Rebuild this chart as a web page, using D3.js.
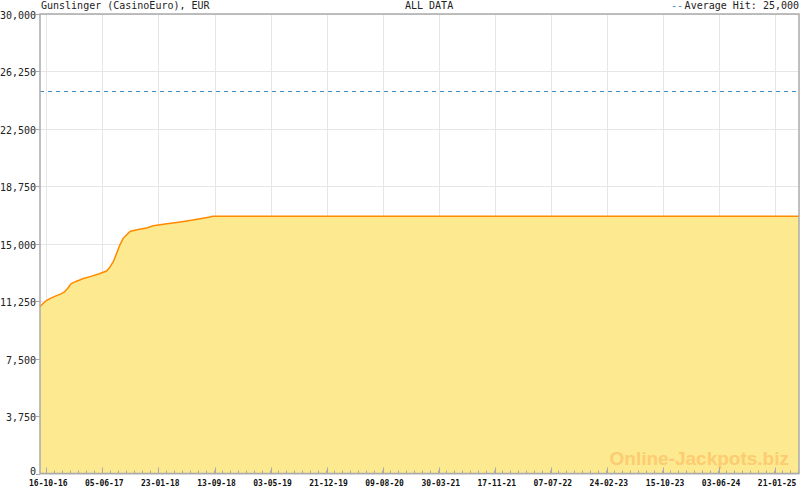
<!DOCTYPE html>
<html><head><meta charset="utf-8">
<script src="https://cdn.jsdelivr.net/npm/d3@7"></script>
<style>body{margin:0;background:#fff}svg{display:block}</style>
</head><body>
<svg id="c" width="800" height="490"></svg>
<script>
const title = "Gunslinger (CasinoEuro), EUR";
const subtitle = "ALL DATA";
const avgLabel = "Average Hit: 25,000";
const averageHit = 25000;
const domainDates = ["2016-09-20", "2025-04-30"];
const dates = ["2016-09-20","2016-10-16","2016-11-04","2016-11-25","2016-12-16","2016-12-30","2017-01-13","2017-01-26","2017-02-16","2017-03-16","2017-04-19","2017-05-24","2017-06-22","2017-07-04","2017-07-21","2017-08-04","2017-08-17","2017-08-31","2017-09-14","2017-09-28","2017-10-26","2017-12-06","2018-01-02","2018-02-20","2018-04-09","2018-06-03","2018-07-15","2018-08-25","2018-09-05","2025-04-30"];
const values = [10900,11290,11450,11600,11730,11850,12100,12390,12540,12710,12870,13040,13220,13410,13840,14390,14930,15370,15590,15800,15910,16030,16170,16290,16390,16520,16630,16750,16790,16790];
const xTickLabels = ["16-10-16","05-06-17","23-01-18","13-09-18","03-05-19","21-12-19","09-08-20","30-03-21","17-11-21","07-07-22","24-02-23","15-10-23","03-06-24","21-01-25"];
const yTicks = [0,3750,7500,11250,15000,18750,22500,26250,30000];
const minorPerMajor = 7;

const svg = d3.select("#c");
const L = 40, R = 799, T = 14, B = 473.5;
const pd = d3.utcParse("%Y-%m-%d");
const pt = d3.utcParse("%d-%m-%y");
const x = d3.scaleUtc().domain(domainDates.map(pd)).range([L, R]);
const y = d3.scaleLinear().domain([0, 30000]).range([B, T]);
const data = dates.map((d, i) => ({d: pd(d), v: values[i]}));
const majors = xTickLabels.map(pt);
const mono = "'DejaVu Sans Mono', monospace";

// grid
const g = svg.append("g");
g.selectAll(".hg").data(yTicks).join("line")
  .attr("x1", L).attr("x2", R).attr("y1", d => Math.round(y(d)) + 0.5).attr("y2", d => Math.round(y(d)) + 0.5)
  .attr("stroke", "#e6e6e6");
g.selectAll(".vg").data(majors).join("line")
  .attr("x1", d => Math.round(x(d)) + 0.5).attr("x2", d => Math.round(x(d)) + 0.5).attr("y1", T).attr("y2", B)
  .attr("stroke", "#e6e6e6");

// area
svg.append("path").datum(data)
  .attr("d", d3.area().x(d => x(d.d)).y0(y(0)).y1(d => y(d.v)))
  .attr("fill", "#fde98f");

// watermark
svg.append("text").attr("x", 789).attr("y", 465).attr("text-anchor", "end")
  .attr("font-family", "'Liberation Sans', Arial, sans-serif").attr("font-weight", "bold")
  .attr("font-size", 19).attr("fill", "#fbcc72").text("Online-Jackpots.biz");

// line
svg.append("path").datum(data)
  .attr("d", d3.line().x(d => x(d.d)).y(d => y(d.v)))
  .attr("fill", "none").attr("stroke", "#ff8a00").attr("stroke-width", 1.5);

// average line
svg.append("line").attr("x1", L).attr("x2", R)
  .attr("y1", Math.round(y(averageHit)) + 0.5).attr("y2", Math.round(y(averageHit)) + 0.5)
  .attr("stroke", "#3d8dc2").attr("stroke-dasharray", "4,4");

// frame
svg.append("rect").attr("x", L).attr("y", T).attr("width", R - L).attr("height", B - T)
  .attr("fill", "none").attr("stroke", "#aaaaaa").attr("stroke-width", 1.5);

// y axis
const ya = svg.append("g");
ya.selectAll("line").data(yTicks).join("line")
  .attr("x1", 36).attr("x2", L).attr("y1", d => Math.round(y(d)) + 0.5).attr("y2", d => Math.round(y(d)) + 0.5)
  .attr("stroke", "#aaaaaa");
ya.selectAll("text").data(yTicks).join("text")
  .attr("x", 36).attr("y", d => Math.min(y(d) + 5, 475)).attr("text-anchor", "end")
  .attr("font-family", mono).attr("font-size", 10).attr("fill", "#222")
  .text(d => d3.format(",")(d));

// x axis
const step = (majors[1] - majors[0]) / minorPerMajor;
const minors = [];
for (let t = +majors[0]; t <= +x.domain()[1]; t += step) minors.push(new Date(t));
svg.append("g").selectAll("line").data(minors).join("line")
  .attr("x1", d => Math.round(x(d)) + 0.5).attr("x2", d => Math.round(x(d)) + 0.5)
  .attr("y1", B - 3).attr("y2", B).attr("stroke", "#aaaaaa");
svg.append("g").selectAll("line").data(majors).join("line")
  .attr("x1", d => Math.round(x(d)) + 0.5).attr("x2", d => Math.round(x(d)) + 0.5)
  .attr("y1", B - 6).attr("y2", B).attr("stroke", "#aaaaaa");
svg.append("g").selectAll("text").data(majors).join("text")
  .attr("x", d => x(d) + 2).attr("y", 486).attr("text-anchor", "middle")
  .attr("font-family", mono).attr("font-size", 8).attr("font-weight", "bold").attr("fill", "#111")
  .text((d, i) => xTickLabels[i]);

// titles
svg.append("text").attr("x", 41).attr("y", 9).attr("font-family", mono).attr("font-size", 10).attr("fill", "#222").text(title);
svg.append("text").attr("x", 405).attr("y", 9).attr("font-family", mono).attr("font-size", 10).attr("fill", "#222").text(subtitle);
svg.append("text").attr("x", 799).attr("y", 9).attr("text-anchor", "end").attr("font-family", mono).attr("font-size", 10).attr("fill", "#222").text(avgLabel);
svg.append("text").attr("x", 683).attr("y", 9).attr("text-anchor", "end").attr("font-family", mono).attr("font-size", 10).attr("fill", "#3d8dc2").text("--");
</script>
</body></html>
